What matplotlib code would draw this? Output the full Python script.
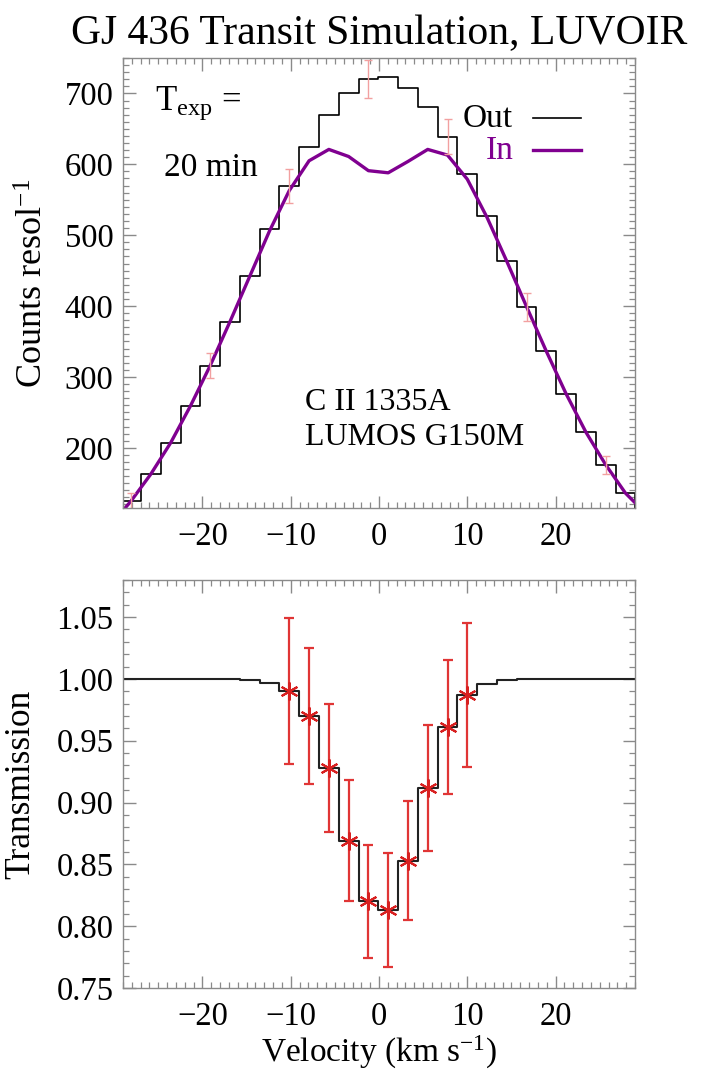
import matplotlib
matplotlib.use("Agg")
import matplotlib.pyplot as plt
import numpy as np
from matplotlib.ticker import MultipleLocator

plt.rcParams['font.family'] = ['Liberation Serif', 'DejaVu Serif']
plt.rcParams['mathtext.fontset'] = 'custom'
plt.rcParams['mathtext.rm'] = 'Liberation Serif'
plt.rcParams['mathtext.it'] = 'Liberation Serif:italic'
plt.rcParams['axes.unicode_minus'] = True

# ---- data ----
velocity = [-30.32, -28.08, -25.84, -23.60, -21.36, -19.12, -16.88, -14.64,
            -12.40, -10.16, -7.92, -5.68, -3.44, -1.20, 1.04, 3.28, 5.52,
            7.76, 10.00, 12.24, 14.48, 16.72, 18.96, 21.20, 23.44, 25.68,
            27.92, 30.16]
counts_out = [92, 125, 163, 207, 259, 316, 378, 443, 508, 569, 624, 669, 701,
              720, 723, 708, 681, 639, 587, 527, 463, 399, 336, 276, 222, 176,
              136, 108]
counts_in = [92, 125, 163, 207, 259, 316, 378, 442, 506, 563, 605, 621, 611,
             591, 588, 604, 621, 613, 579, 525, 463, 399, 336, 276, 222, 176,
             136, 108]
transmission = [1.0, 1.0, 1.0, 1.0, 1.0, 1.0, 1.0, 0.9995, 0.997, 0.990,
                0.970, 0.928, 0.869, 0.820, 0.813, 0.853, 0.912, 0.961, 0.987,
                0.996, 0.999, 1.0, 1.0, 1.0, 1.0, 1.0, 1.0, 1.0]

out_err_v = [-28.08, -19.12, -10.16, -1.20, 7.76, 16.72, 25.68]
out_err_y = [125, 316, 569, 720, 639, 399, 176]
out_err = [11, 18, 24, 27, 25, 20, 13]

tr_pts_v = [-10.16, -7.92, -5.68, -3.44, -1.20, 1.04, 3.28, 5.52, 7.76, 10.00]
tr_pts_y = [0.990, 0.970, 0.928, 0.869, 0.820, 0.813, 0.853, 0.912, 0.961, 0.987]
tr_pts_err = [0.059, 0.055, 0.052, 0.049, 0.046, 0.046, 0.048, 0.051, 0.054, 0.058]

W, H = 706, 1074
fig = plt.figure(figsize=(W / 100, H / 100), dpi=100)

def frac(l, t, r, b):
    return [l / W, 1 - b / H, (r - l) / W, (b - t) / H]

ax1 = fig.add_axes(frac(123, 58, 635, 508))
ax2 = fig.add_axes(frac(123, 580, 635, 988))

spine_col = '#8a8a8a'
for ax in (ax1, ax2):
    for s in ax.spines.values():
        s.set_color(spine_col)
        s.set_linewidth(1.0)
    ax.tick_params(which='both', direction='in', top=True, right=True,
                   color=spine_col, labelsize=23.5)
    ax.tick_params(which='major', length=9, width=1.0)
    ax.tick_params(which='minor', length=4.5, width=0.9)
    ax.tick_params(axis='x', pad=10)
    ax.tick_params(axis='y', pad=7)
    ax.set_xlim(-29, 29)
    ax.xaxis.set_major_locator(MultipleLocator(10))
    ax.xaxis.set_minor_locator(MultipleLocator(1))

# ---- top panel ----
ax1.step(velocity, counts_out, where='mid', color='black', lw=1.2)
ax1.plot(velocity, counts_in, color='#800090', lw=2.4)
ax1.errorbar(out_err_v, out_err_y, yerr=out_err, fmt='none',
             ecolor='#f2a0a0', elinewidth=1.0, capsize=3, capthick=1.0)
ax1.set_ylim(115, 750)
ax1.yaxis.set_major_locator(MultipleLocator(100))
ax1.yaxis.set_minor_locator(MultipleLocator(10))
ax1.set_ylabel('Counts resol$^{-1}$', fontsize=26, labelpad=10)
ax1.set_title('GJ 436 Transit Simulation, LUVOIR', fontsize=30, pad=10)

ax1.text(0.062, 0.90, r'T$_{\rm exp}$ =', transform=ax1.transAxes,
         fontsize=25, va='center', ha='left')
ax1.text(0.080, 0.757, '20 min', transform=ax1.transAxes,
         fontsize=24, va='center', ha='left')
ax1.text(0.355, 0.235, 'C II 1335A', transform=ax1.transAxes,
         fontsize=23, va='center', ha='left')
ax1.text(0.355, 0.157, 'LUMOS G150M', transform=ax1.transAxes,
         fontsize=23, va='center', ha='left')

# legend drawn as labels with sample lines on the right
ax1.text(0.762, 0.866, 'Out', transform=ax1.transAxes, fontsize=24,
         va='center', ha='right', color='black')
ax1.text(0.762, 0.794, 'In', transform=ax1.transAxes, fontsize=24,
         va='center', ha='right', color='#800090')
ax1.plot([0.801, 0.895], [0.866, 0.866], transform=ax1.transAxes,
         color='black', lw=1.2)
ax1.plot([0.801, 0.895], [0.796, 0.796], transform=ax1.transAxes,
         color='#800090', lw=2.4)

# ---- bottom panel ----
ax2.step(velocity, transmission, where='mid', color='#222222', lw=1.5)
ax2.errorbar(tr_pts_v, tr_pts_y, yerr=tr_pts_err, fmt='none',
             ecolor='#e03535', elinewidth=1.6, capsize=3.5, capthick=1.6)
ax2.plot(tr_pts_v, tr_pts_y, ls='none', marker=(6, 2, 0), ms=13,
         mec='#d82020', mew=1.5)
ax2.set_ylim(0.75, 1.08)
ax2.yaxis.set_major_locator(MultipleLocator(0.05))
ax2.yaxis.set_minor_locator(MultipleLocator(0.01))
ax2.yaxis.set_major_formatter(matplotlib.ticker.FormatStrFormatter('%.2f'))
ax2.set_ylabel('Transmission', fontsize=25.5, labelpad=14)
ax2.set_xlabel('Velocity (km s$^{-1}$)', fontsize=24, labelpad=1)

fig.savefig('out.png', dpi=100)
